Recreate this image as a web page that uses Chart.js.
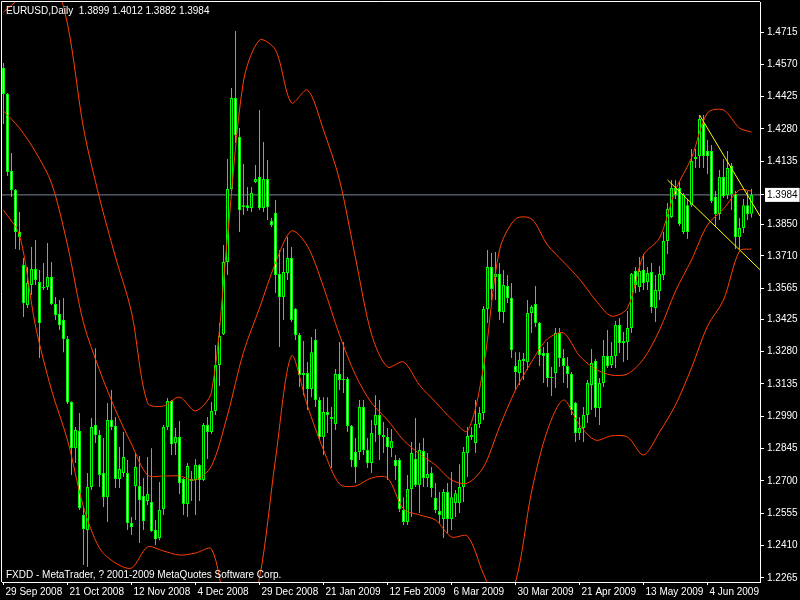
<!DOCTYPE html>
<html>
<head>
<meta charset="utf-8">
<title>EURUSD, Daily</title>
<script src="https://cdn.jsdelivr.net/npm/chart.js@4.4.1/dist/chart.umd.min.js"></script>
<style>
  html, body { margin: 0; padding: 0; background: #000; }
  canvas { display: block; background: #000; }
</style>
</head>
<body>
<canvas id="chart" width="800" height="600"></canvas>
<script>
// daily candles, 29 Sep 2008 .. mid Jun 2009
const opens = [
  1.4554, 1.4437, 1.4091, 1.4006, 1.3817, 1.3669, 1.3490, 1.3579, 1.3651, 1.3593,
  1.3566, 1.3570, 1.3615, 1.3494, 1.3449, 1.3422, 1.3337, 1.3054, 1.2847, 1.2924,
  1.2547, 1.2479, 1.2672, 1.2951, 1.2906, 1.2735, 1.2627, 1.2973, 1.2946, 1.2708,
  1.2735, 1.2735, 1.2511, 1.2677, 1.2677, 1.2632, 1.2610, 1.2605, 1.2479, 1.2443,
  1.2574, 1.2942, 1.3059, 1.2870, 1.2897, 1.2708, 1.2596, 1.2708, 1.2704, 1.2771,
  1.2704, 1.2951, 1.2919, 1.3014, 1.3220, 1.3359, 1.3683, 1.4010, 1.4419, 1.4244,
  1.3930, 1.3938, 1.3925, 1.4042, 1.4064, 1.3925, 1.4055, 1.3867, 1.3903, 1.3629,
  1.3525, 1.3633, 1.3701, 1.3472, 1.3355, 1.3184, 1.3184, 1.3112, 1.3332, 1.3063,
  1.2897, 1.3009, 1.2987, 1.2955, 1.3180, 1.3153, 1.3157, 1.2946, 1.2830, 1.2830,
  1.3032, 1.2839, 1.2780, 1.2951, 1.2996, 1.2906, 1.2897, 1.2847, 1.2794, 1.2794,
  1.2569, 1.2515, 1.2663, 1.2798, 1.2681, 1.2834, 1.2713, 1.2735, 1.2623, 1.2565,
  1.2529, 1.2650, 1.2529, 1.2601, 1.2601, 1.2672, 1.2825, 1.2897, 1.2870, 1.2955,
  1.3005, 1.3472, 1.3660, 1.3615, 1.3629, 1.3458, 1.3575, 1.3521, 1.3216, 1.3184,
  1.3238, 1.3234, 1.3454, 1.3494, 1.3409, 1.3274, 1.3274, 1.3166, 1.3184, 1.3364,
  1.3252, 1.3216, 1.3180, 1.3050, 1.2915, 1.2937, 1.2996, 1.3130, 1.3238, 1.3027,
  1.3139, 1.3261, 1.3220, 1.3261, 1.3400, 1.3319, 1.3323, 1.3386, 1.3642, 1.3570,
  1.3647, 1.3593, 1.3638, 1.3476, 1.3552, 1.3624, 1.3777, 1.3885, 1.4015, 1.4015,
  1.3817, 1.3938, 1.3938, 1.4145, 1.4159, 1.4302, 1.4181, 1.4181, 1.3974, 1.3898,
  1.4064, 1.3983, 1.4114, 1.3988, 1.3795, 1.3835, 1.3938, 1.3899
];
const highs = [
  1.4576, 1.4441, 1.4172, 1.4010, 1.3907, 1.3701, 1.3660, 1.3750, 1.3781, 1.3647,
  1.3678, 1.3768, 1.3683, 1.3525, 1.3512, 1.3521, 1.3350, 1.3058, 1.2942, 1.3005,
  1.2583, 1.2735, 1.2982, 1.3296, 1.2928, 1.2892, 1.3050, 1.3108, 1.2987, 1.2852,
  1.2919, 1.2794, 1.2538, 1.2825, 1.2812, 1.2713, 1.2807, 1.2847, 1.2524, 1.2695,
  1.2951, 1.3072, 1.3063, 1.2937, 1.2969, 1.2713, 1.2780, 1.2744, 1.2798, 1.2775,
  1.2960, 1.2987, 1.3054, 1.3310, 1.3409, 1.3759, 1.4145, 1.4464, 1.4720, 1.4284,
  1.4123, 1.4019, 1.4019, 1.4118, 1.4365, 1.4221, 1.4141, 1.3880, 1.3961, 1.3737,
  1.3745, 1.3795, 1.3750, 1.3476, 1.3364, 1.3328, 1.3234, 1.3346, 1.3382, 1.3076,
  1.3076, 1.3076, 1.3032, 1.3202, 1.3323, 1.3323, 1.3166, 1.2951, 1.2892, 1.3063,
  1.3063, 1.2892, 1.2973, 1.3085, 1.3063, 1.2964, 1.2937, 1.2933, 1.2816, 1.2803,
  1.2627, 1.2726, 1.2874, 1.2982, 1.2870, 1.2892, 1.2825, 1.2762, 1.2690, 1.2650,
  1.2663, 1.2690, 1.2740, 1.2659, 1.2775, 1.2852, 1.2942, 1.2942, 1.3063, 1.3032,
  1.3485, 1.3737, 1.3723, 1.3728, 1.3678, 1.3647, 1.3624, 1.3588, 1.3278, 1.3278,
  1.3274, 1.3512, 1.3490, 1.3575, 1.3413, 1.3301, 1.3323, 1.3211, 1.3386, 1.3386,
  1.3292, 1.3256, 1.3189, 1.3054, 1.2987, 1.3032, 1.3153, 1.3292, 1.3247, 1.3162,
  1.3332, 1.3377, 1.3323, 1.3418, 1.3431, 1.3368, 1.3463, 1.3633, 1.3660, 1.3705,
  1.3719, 1.3660, 1.3678, 1.3624, 1.3665, 1.3817, 1.3948, 1.4051, 1.4051, 1.4042,
  1.3992, 1.3965, 1.4190, 1.4190, 1.4343, 1.4343, 1.4230, 1.4208, 1.4001, 1.4096,
  1.4145, 1.4181, 1.4127, 1.4001, 1.3880, 1.3965, 1.4001, 1.4012
];
const lows = [
  1.4302, 1.4069, 1.3974, 1.3741, 1.3737, 1.3436, 1.3476, 1.3534, 1.3579, 1.3252,
  1.3557, 1.3557, 1.3490, 1.3422, 1.3377, 1.3278, 1.3045, 1.2726, 1.2780, 1.2569,
  1.2322, 1.2313, 1.2659, 1.2870, 1.2672, 1.2583, 1.2515, 1.2928, 1.2668, 1.2668,
  1.2717, 1.2479, 1.2457, 1.2524, 1.2421, 1.2479, 1.2592, 1.2470, 1.2412, 1.2434,
  1.2547, 1.2928, 1.2816, 1.2816, 1.2641, 1.2547, 1.2538, 1.2610, 1.2547, 1.2610,
  1.2699, 1.2798, 1.2910, 1.2996, 1.3126, 1.3355, 1.3624, 1.4001, 1.4217, 1.3817,
  1.3894, 1.3912, 1.3907, 1.4037, 1.3916, 1.3907, 1.3871, 1.3840, 1.3543, 1.3301,
  1.3422, 1.3602, 1.3413, 1.3332, 1.3121, 1.3085, 1.3018, 1.3076, 1.3032, 1.2883,
  1.2816, 1.2915, 1.2758, 1.2928, 1.3108, 1.3094, 1.2919, 1.2762, 1.2690, 1.2794,
  1.2816, 1.2758, 1.2735, 1.2874, 1.2794, 1.2825, 1.2704, 1.2807, 1.2704, 1.2560,
  1.2502, 1.2502, 1.2538, 1.2672, 1.2556, 1.2672, 1.2672, 1.2627, 1.2556, 1.2511,
  1.2443, 1.2466, 1.2479, 1.2538, 1.2556, 1.2605, 1.2717, 1.2883, 1.2825, 1.2937,
  1.2973, 1.3409, 1.3512, 1.3512, 1.3422, 1.3409, 1.3499, 1.3252, 1.3108, 1.3130,
  1.3153, 1.3198, 1.3364, 1.3391, 1.3216, 1.3139, 1.3121, 1.3081, 1.3117, 1.3211,
  1.3139, 1.3117, 1.2996, 1.2874, 1.2883, 1.2874, 1.2960, 1.3018, 1.2987, 1.2951,
  1.3121, 1.3207, 1.3207, 1.3207, 1.3274, 1.3234, 1.3243, 1.3364, 1.3543, 1.3548,
  1.3557, 1.3557, 1.3454, 1.3413, 1.3512, 1.3602, 1.3719, 1.3880, 1.3965, 1.3844,
  1.3808, 1.3786, 1.3930, 1.4105, 1.4105, 1.4105, 1.4078, 1.3948, 1.3844, 1.3871,
  1.3970, 1.3965, 1.3916, 1.3741, 1.3741, 1.3813, 1.3871, 1.3882
];
const closes = [
  1.4437, 1.4087, 1.4006, 1.3817, 1.3795, 1.3499, 1.3588, 1.3651, 1.3602, 1.3409,
  1.3570, 1.3615, 1.3494, 1.3445, 1.3400, 1.3337, 1.3052, 1.2847, 1.2928, 1.2578,
  1.2484, 1.2672, 1.2942, 1.2906, 1.2726, 1.2627, 1.2973, 1.2942, 1.2708, 1.2753,
  1.2807, 1.2511, 1.2493, 1.2762, 1.2614, 1.2520, 1.2641, 1.2475, 1.2439, 1.2569,
  1.2942, 1.3059, 1.2865, 1.2897, 1.2690, 1.2596, 1.2767, 1.2699, 1.2771, 1.2704,
  1.2951, 1.2919, 1.3014, 1.3220, 1.3350, 1.3683, 1.4010, 1.4419, 1.4253, 1.3916,
  1.3938, 1.3925, 1.3992, 1.4055, 1.3925, 1.4055, 1.3930, 1.3849, 1.3624, 1.3525,
  1.3638, 1.3701, 1.3422, 1.3355, 1.3175, 1.3175, 1.3112, 1.3278, 1.3063, 1.2897,
  1.3009, 1.2996, 1.2978, 1.3180, 1.3153, 1.3157, 1.2946, 1.2794, 1.2762, 1.3032,
  1.2839, 1.2780, 1.2915, 1.2996, 1.2906, 1.2897, 1.2852, 1.2879, 1.2767, 1.2574,
  1.2515, 1.2663, 1.2825, 1.2681, 1.2839, 1.2713, 1.2731, 1.2668, 1.2569, 1.2547,
  1.2650, 1.2529, 1.2627, 1.2645, 1.2672, 1.2830, 1.2902, 1.2906, 1.2955, 1.3005,
  1.3472, 1.3660, 1.3561, 1.3629, 1.3458, 1.3579, 1.3521, 1.3288, 1.3189, 1.3243,
  1.3247, 1.3454, 1.3481, 1.3409, 1.3265, 1.3261, 1.3162, 1.3162, 1.3364, 1.3252,
  1.3216, 1.3180, 1.3018, 1.2915, 1.2937, 1.2996, 1.3139, 1.3229, 1.3027, 1.3139,
  1.3261, 1.3216, 1.3261, 1.3400, 1.3319, 1.3328, 1.3386, 1.3629, 1.3579, 1.3642,
  1.3588, 1.3633, 1.3481, 1.3557, 1.3629, 1.3777, 1.3921, 1.4015, 1.3983, 1.3853,
  1.3983, 1.3817, 1.4136, 1.4154, 1.4325, 1.4159, 1.4159, 1.3957, 1.3898, 1.4064,
  1.3978, 1.4105, 1.3988, 1.3795, 1.3835, 1.3938, 1.3898, 1.3984
];

// bollinger bands, read every 4th bar
const bandIdx = [
  0, 4, 8, 12, 16, 20, 24, 28, 32, 36, 40, 44, 48, 52, 56, 60, 64, 68, 72, 76,
  80, 84, 88, 92, 96, 100, 104, 108, 112, 116, 120, 124, 128, 132, 136, 140, 144, 148, 152, 156,
  160, 164, 168, 172, 176, 180, 184, 187
];
const bandUpper = [
  1.4805, 1.4868, 1.4949, 1.4971, 1.4751, 1.4284, 1.3970, 1.3705, 1.3458, 1.3050,
  1.3036, 1.3076, 1.3014, 1.3099, 1.3795, 1.4495, 1.4679, 1.4635, 1.4397, 1.4455,
  1.4275, 1.4051, 1.3701, 1.3359, 1.3211, 1.3234, 1.3130, 1.3054, 1.2978, 1.2924,
  1.3211, 1.3737, 1.3876, 1.3876, 1.3759, 1.3683, 1.3606, 1.3512, 1.3440, 1.3476,
  1.3714, 1.3790, 1.4006, 1.4150, 1.4352, 1.4365, 1.4284, 1.4266
];
const bandMiddle = [
  1.4361, 1.4284, 1.4177, 1.4037, 1.3759, 1.3409, 1.3198, 1.3018, 1.2865, 1.2726,
  1.2722, 1.2722, 1.2704, 1.2767, 1.2996, 1.3278, 1.3476, 1.3678, 1.3822, 1.3754,
  1.3570, 1.3355, 1.3175, 1.3050, 1.2973, 1.2883, 1.2821, 1.2771, 1.2704, 1.2690,
  1.2762, 1.2942, 1.3108, 1.3234, 1.3337, 1.3364, 1.3261, 1.3202, 1.3175, 1.3180,
  1.3247, 1.3377, 1.3552, 1.3692, 1.3849, 1.3921, 1.4006, 1.4001
];
const bandLower = [
  1.3916, 1.3804, 1.3395, 1.3108, 1.2883, 1.2583, 1.2398, 1.2331, 1.2309, 1.2403,
  1.2385, 1.2367, 1.2376, 1.2394, 1.2120, 1.2053, 1.2264, 1.2798, 1.3261, 1.3036,
  1.2839, 1.2686, 1.2677, 1.2713, 1.2713, 1.2574, 1.2547, 1.2524, 1.2448, 1.2452,
  1.2282, 1.2143, 1.2246, 1.2650, 1.2928, 1.3063, 1.2951, 1.2883, 1.2902, 1.2897,
  1.2816, 1.2919, 1.3041, 1.3207, 1.3395, 1.3512, 1.3732, 1.3741
];

// hand drawn trend lines: [bar, price]
const trendUpper = [[174, 1.4343], [189.125, 1.3889]];
const trendLower = [[166, 1.4051], [189.125, 1.3648]];

const dateIdx = [0, 16, 32, 48, 64, 80, 96, 112, 128, 144, 160, 176];
const dateLabels = [
  "29 Sep 2008", "21 Oct 2008", "12 Nov 2008", "4 Dec 2008", "29 Dec 2008", "21 Jan 2009",
  "12 Feb 2009", "6 Mar 2009", "30 Mar 2009", "21 Apr 2009", "13 May 2009", "4 Jun 2009"
];
const priceTicks = [
  1.4715, 1.4570, 1.4425, 1.4280, 1.4135, 1.3984, 1.3850, 1.3710, 1.3565,
  1.3425, 1.3280, 1.3135, 1.2990, 1.2845, 1.2700, 1.2555, 1.2410, 1.2265
];
const bidPrice = 1.3984;

const X_MIN = -0.375, X_MAX = 189.125;
const Y_MIN = 1.2246, Y_MAX = 1.4850;
const FONT = { family: '"Liberation Sans", Arial, sans-serif', size: 10 };

const last = opens.length - 1;
const titleText = "EURUSD,Daily  " + [opens[last], highs[last], lows[last], closes[last]].map(v => v.toFixed(4)).join(" ");
const footerText = "FXDD - MetaTrader, ? 2001-2009 MetaQuotes Software Corp.";

const bars = opens.map((_, i) => i);
const bodies = bars.map(i => ({ x: i, y: [opens[i], closes[i]] }));
const wicks = bars.map(i => ({ x: i, y: [lows[i], highs[i]] }));
const bodyFill = bars.map(i => closes[i] >= opens[i] ? "#000000" : "#ffffff");

function bandLine(values) {
  return bandIdx.map((x, i) => ({ x: x, y: values[i] }));
}

function lineSet(data, color, order) {
  return {
    type: "line",
    data: data,
    borderColor: color,
    borderWidth: 1,
    pointRadius: 0,
    tension: 0.3,
    fill: false,
    order: order
  };
}

// frame + the two text lines
const overlay = {
  id: "overlay",
  afterDraw(chart) {
    const ctx = chart.ctx;
    const a = chart.chartArea;
    ctx.save();
    ctx.strokeStyle = "#ffffff";
    ctx.lineWidth = 1;
    ctx.beginPath();
    ctx.moveTo(a.left - 0.5, a.bottom);
    ctx.lineTo(a.left - 0.5, a.top - 0.5);
    ctx.lineTo(a.right, a.top - 0.5);
    ctx.stroke();
    ctx.font = FONT.size + "px " + FONT.family;
    ctx.fillStyle = "#ffffff";
    ctx.textBaseline = "middle";
    ctx.fillText(titleText, 6, 11);
    ctx.fillText(footerText, 6, 575);
    ctx.restore();
  }
};

new Chart(document.getElementById("chart"), {
  type: "bar",
  data: {
    datasets: [
      Object.assign(lineSet([{ x: X_MIN, y: bidPrice }, { x: X_MAX, y: bidPrice }], "#778899", 6), { tension: 0 }),
      {
        label: "wicks",
        data: wicks,
        backgroundColor: "#00ff00",
        borderWidth: 0,
        barThickness: 1,
        grouped: false,
        minBarLength: 1,
        inflateAmount: 0,
        order: 5
      },
      {
        label: "bodies",
        data: bodies,
        backgroundColor: bodyFill,
        borderColor: "#00ff00",
        borderWidth: 1,
        borderSkipped: false,
        barThickness: 3,
        grouped: false,
        minBarLength: 1,
        inflateAmount: 0,
        order: 4
      },
      lineSet(bandLine(bandUpper), "#ff4000", 3),
      lineSet(bandLine(bandMiddle), "#ff4000", 3),
      lineSet(bandLine(bandLower), "#ff4000", 3),
      Object.assign(lineSet(trendUpper.map(p => ({ x: p[0], y: p[1] })), "#ffff00", 1), { tension: 0 }),
      Object.assign(lineSet(trendLower.map(p => ({ x: p[0], y: p[1] })), "#ffff00", 1), { tension: 0 })
    ]
  },
  options: {
    responsive: false,
    animation: false,
    events: [],
    layout: { padding: { left: 2, top: 2, right: 0, bottom: 0 } },
    plugins: {
      legend: { display: false },
      tooltip: { enabled: false }
    },
    scales: {
      x: {
        type: "linear",
        min: X_MIN,
        max: X_MAX,
        bounds: "data",
        offset: false,
        grid: { display: true, offset: false, drawOnChartArea: false, drawTicks: true, tickLength: 3, color: "#ffffff" },
        border: { display: true, color: "#ffffff" },
        ticks: {
          autoSkip: false,
          maxRotation: 0,
          align: "start",
          labelOffset: 2,
          padding: 1,
          color: "#ffffff",
          font: FONT,
          callback: (v, i) => dateLabels[i]
        },
        afterBuildTicks: s => { s.ticks = dateIdx.map(v => ({ value: v })); },
        afterFit: s => { s.height = 18; s.paddingLeft = 0; s.paddingRight = 0; }
      },
      y: {
        type: "linear",
        position: "right",
        min: Y_MIN,
        max: Y_MAX,
        bounds: "data",
        grid: { display: true, drawOnChartArea: false, drawTicks: true, tickLength: 4, color: "#ffffff" },
        border: { display: true, color: "#ffffff" },
        ticks: {
          padding: 3,
          font: FONT,
          color: ctx => ctx.tick && ctx.tick.value === bidPrice ? "#000000" : "#ffffff",
          showLabelBackdrop: true,
          backdropPadding: { left: 2, right: 2, top: 1, bottom: 1 },
          backdropColor: ctx => ctx.tick && ctx.tick.value === bidPrice ? "#ffffff" : "rgba(0,0,0,0)",
          callback: v => v.toFixed(4)
        },
        afterBuildTicks: s => { s.ticks = priceTicks.map(v => ({ value: v })); },
        afterFit: s => { s.width = 40; s.paddingTop = 0; s.paddingBottom = 0; }
      }
    }
  },
  plugins: [overlay]
});
</script>
</body>
</html>
